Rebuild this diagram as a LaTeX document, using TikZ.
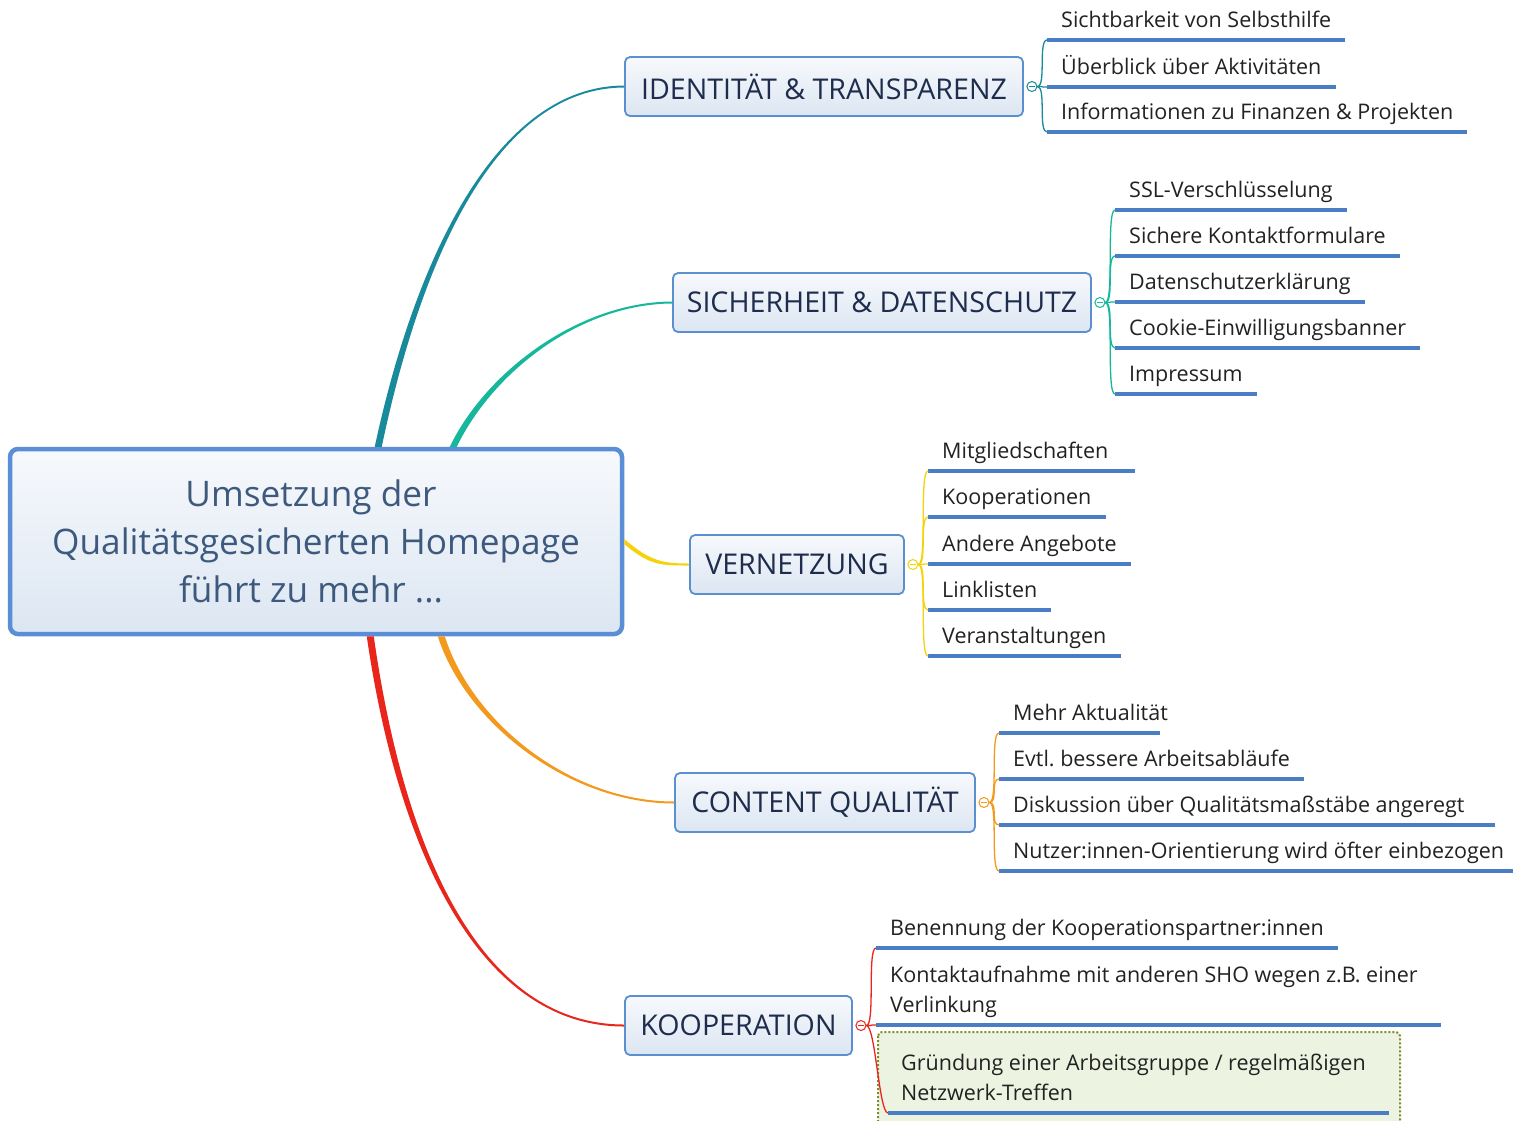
\documentclass[tikz,border=0pt]{standalone}
\usepackage{fontspec}
\setmainfont{Open Sans}
\usetikzlibrary{calc}
\frenchspacing
\definecolor{ulblue}{HTML}{4A7EC4}
\definecolor{boxblue}{HTML}{5B8FD0}
\definecolor{cboxblue}{HTML}{5A8ED6}
\definecolor{boxtop}{HTML}{F7F9FC}
\definecolor{boxbot}{HTML}{DCE6F2}
\definecolor{branchtext}{HTML}{1E2D4D}
\definecolor{centraltext}{HTML}{3D5A7E}
\definecolor{leaftext}{HTML}{222222}
\definecolor{colid}{HTML}{188A9B}
\definecolor{colsi}{HTML}{16B89B}
\definecolor{colve}{HTML}{F5D30A}
\definecolor{colco}{HTML}{F39A1E}
\definecolor{colko}{HTML}{E8261C}
\definecolor{gfill}{HTML}{EDF3E1}
\definecolor{gdraw}{HTML}{7E8E2C}
\tikzset{
  leaf/.style={anchor=south west, inner xsep=14pt, inner ysep=0pt, text height=19pt, text depth=12pt,
    font=\fontsize{21.5}{30}\selectfont, text=leaftext},
  mleaf/.style={anchor=south west, inner xsep=14pt, inner ysep=0pt, align=left,
    font=\fontsize{21.5}{30}\selectfont, text=leaftext},
  branch/.style={draw=boxblue, line width=1.8pt, rounded corners=5pt, top color=boxtop, bottom color=boxbot,
    minimum height=59pt, font=\fontsize{28.6}{34}\selectfont, text=branchtext, inner sep=0pt},
  central/.style={draw=cboxblue, line width=4.5pt, rounded corners=8pt, top color=boxtop, bottom color=boxbot,
    minimum width=612pt, minimum height=185pt, align=center, font=\fontsize{35.2}{48}\selectfont, text=centraltext, inner sep=0pt},
  knob/.style={circle, draw=#1, fill=white, line width=1pt, minimum size=10pt, inner sep=0pt,
    path picture={\draw[#1, line width=0.8pt] ([xshift=2.2pt]path picture bounding box.west) -- ([xshift=-2.2pt]path picture bounding box.east);}},
  uline/.style={draw=ulblue, line width=3.2pt},
  br/.style={line width=1.3pt},
  gbox/.style={draw=gdraw, fill=gfill, line width=2pt, dash pattern=on 2pt off 2pt, rounded corners=4pt},
}
\begin{document}
\begin{tikzpicture}[x=1pt,y=-1pt]
\useasboundingbox (0,0) rectangle (1513,1120);
\clip (0,0) rectangle (1513,1120);
\fill[white] (0,0) rectangle (1513,1120);

% central node
\node[central] (c) at (316,541.5) {Umsetzung der\hspace*{10pt}\\Qualitätsgesicherten Homepage\hspace*{10pt}\\führt zu mehr ...\hspace*{10pt}};

% branch nodes
\node[branch, minimum width=398pt] (id) at (824,86.5) {IDENTITÄT \& TRANSPARENZ};
\node[branch, minimum width=418pt] (si) at (882,302.5) {SICHERHEIT \& DATENSCHUTZ};
\node[branch, minimum width=214pt] (ve) at (797,564.5) {VERNETZUNG};
\node[branch, minimum width=300pt] (co) at (825,802.5) {CONTENT QUALITÄT};
\node[branch, minimum width=227pt] (ko) at (738.5,1025.5) {KOOPERATION};

% knobs
\node[knob=colid] (kid) at ($(id.east)+(8,0)$) {};
\node[knob=colsi] (ksi) at ($(si.east)+(8,0)$) {};
\node[knob=colve] (kve) at ($(ve.east)+(8,0)$) {};
\node[knob=colco] (kco) at ($(co.east)+(8,0)$) {};
\node[knob=colko] (kko) at ($(ko.east)+(8,0)$) {};

% green box with the last leaf
\path[gbox] (878,1032) rectangle (1400,1135);
\node[mleaf, inner xsep=13pt] (k3) at (888,1113) {\rule{0pt}{19pt}Gründung einer Arbeitsgruppe / regelmäßigen\\Netzwerk-Treffen\rule[-12pt]{0pt}{12pt}};

% leaves
\node[leaf] (i1) at (1047,40) {Sichtbarkeit von Selbsthilfe};
\node[leaf] (i2) at (1047,87) {Überblick über Aktivitäten};
\node[leaf] (i3) at (1047,132) {Informationen zu Finanzen \& Projekten};

\node[leaf] (s1) at (1115,210) {SSL-Verschlüsselung};
\node[leaf] (s2) at (1115,256) {Sichere Kontaktformulare};
\node[leaf] (s3) at (1115,302) {Datenschutzerklärung};
\node[leaf] (s4) at (1115,348) {Cookie-Einwilligungsbanner};
\node[leaf] (s5) at (1115,394) {Impressum};

\node[leaf] (v1) at (928,471) {Mitgliedschaften};
\node[leaf] (v2) at (928,517) {Kooperationen};
\node[leaf] (v3) at (928,564) {Andere Angebote};
\node[leaf] (v4) at (928,610) {Linklisten};
\node[leaf] (v5) at (928,656) {Veranstaltungen};

\node[leaf] (q1) at (999,733) {Mehr Aktualität};
\node[leaf] (q2) at (999,779) {Evtl.\ bessere Arbeitsabläufe};
\node[leaf] (q3) at (999,825) {Diskussion über Qualitätsmaßstäbe angeregt};
\node[leaf] (q4) at (999,871) {Nutzer:innen-Orientierung wird öfter einbezogen};

\node[leaf] (k1) at (876,948) {Benennung der Kooperationspartner:innen};
\node[mleaf] (k2) at (876,1025) {\rule{0pt}{19pt}Kontaktaufnahme mit anderen SHO wegen z.B. einer\\Verlinkung\rule[-12pt]{0pt}{12pt}};

% underlines
\foreach \l in {i1,i2,i3,s1,s2,s3,s4,s5,v2,v3,v4,v5,q2,q4,k1}
  \draw[uline] (\l.south west) -- (\l.south east);
\draw[uline] (q1.south west) -- ([xshift=-22pt]q1.south east);
\draw[uline] (v1.south west) -- ([xshift=12pt]v1.south east);
\draw[uline] (q3.south west) -- ([xshift=16pt]q3.south east);
\draw[uline] (k2.south west) -- ([xshift=9pt]k2.south east);
\draw[uline] (k3.south west) -- ([xshift=10pt]k3.south east);

% brackets
\foreach \l in {i1,i2,i3}
  \draw[br, colid] (kid.east) .. controls +(9,0) and +(-9,0) .. (\l.south west);
\foreach \l in {s1,s2,s3,s4,s5}
  \draw[br, colsi] (ksi.east) .. controls +(9,0) and +(-9,0) .. (\l.south west);
\foreach \l in {v1,v2,v3,v4,v5}
  \draw[br, colve] (kve.east) .. controls +(9,0) and +(-9,0) .. (\l.south west);
\foreach \l in {q1,q2,q3,q4}
  \draw[br, colco] (kco.east) .. controls +(9,0) and +(-9,0) .. (\l.south west);
\foreach \l in {k1,k2,k3}
  \draw[br, colko] (kko.east) .. controls +(9,0) and +(-9,0) .. (\l.south west);

% main tapered connectors
\fill[colid] ($(c.north west)+(367,0)$) .. controls (417,250) and (500,86) .. ($(id.west)+(0,-1)$)
   -- ($(id.west)+(0,1)$) .. controls (500,88) and (423,250) .. ($(c.north west)+(374,0)$) -- cycle;
\fill[colsi] ($(c.north west)+(442,0)$) .. controls (487,370) and (580,302) .. ($(si.west)+(0,-1)$)
   -- ($(si.west)+(0,1)$) .. controls (580,304) and (493,372) .. ($(c.north west)+(449,0)$) -- cycle;
\fill[colve] ($(c.east)+(0,-2.5)$) .. controls (650,561) and (662,563.5) .. ($(ve.west)+(0,-1)$)
   -- ($(ve.west)+(0,1)$) .. controls (662,565.5) and (650,566) .. ($(c.east)+(0,2.5)$) -- cycle;
\fill[colco] ($(c.south west)+(430,0)$) .. controls (466,724) and (570,803.5) .. ($(co.west)+(0,1)$)
   -- ($(co.west)+(0,-1)$) .. controls (570,801.5) and (472,722) .. ($(c.south west)+(437,0)$) -- cycle;
\fill[colko] ($(c.south west)+(359,0)$) .. controls (398,852) and (480,1026.5) .. ($(ko.west)+(0,1)$)
   -- ($(ko.west)+(0,-1)$) .. controls (480,1024.5) and (404,850) .. ($(c.south west)+(366,0)$) -- cycle;
\end{tikzpicture}
\end{document}
